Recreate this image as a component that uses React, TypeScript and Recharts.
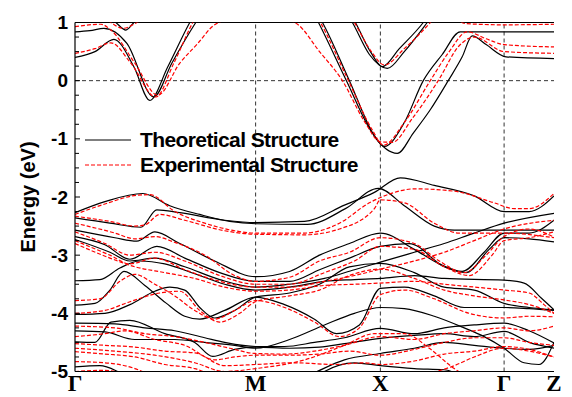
import React from "react";
import { LineChart, Line, XAxis, YAxis, ReferenceLine, Legend } from "recharts";

// k-path positions of the high-symmetry points and their labels
const kTicks = [0, 181, 306, 430, 480];
const kLabels = ["Γ", "M", "X", "Γ", "Z"];
const eTicks = [-5, -4.75, -4.5, -4.25, -4, -3.75, -3.5, -3.25, -3, -2.75, -2.5, -2.25, -2, -1.75, -1.5, -1.25, -1, -0.75, -0.5, -0.25, 0, 0.25, 0.5, 0.75, 1];
const legendLabels = ["Theoretical Structure", "Experimental Structure"];

// Theoretical structure bands: [k, E(eV)]
const thC1 = [[0,0.40],[20,0.50],[39,0.71],[59,0.24],[75,-0.34],[93,0.24],[115,1.0],[150,1.9],[181,2.2],[215,1.9],[244,1.0],[272,0.0],[298,-0.9],[310,-1.13],[330,-0.72],[349,0],[368,0.45],[386,0.84],[430,0.84],[480,0.84]];
const thC2 = [[0,0.84],[15,0.86],[29,0.90],[52,0.64],[79,-0.28],[97,0.30],[121,1.0],[160,1.9],[181,2.1],[215,1.8],[248,1.0],[275,0.0],[300,-0.95],[323,-1.25],[339,-0.9],[356,-0.5],[374,0],[388,0.41],[398,0.77],[412,0.62],[432,0.41],[480,0.38]];
const thC3 = [[20,1.3],[41,1.0],[51,0.87],[59,1.0],[80,1.4]];
const thC4 = [[255,1.6],[278,1.0],[295,0.45],[313,0.21],[330,0.5],[353,1.0],[370,1.4]];
const thC5 = [[258,1.6],[281,1.0],[296,0.5],[308,0.24],[325,0.55],[349,1.0],[365,1.4]];
const thV1 = [[0,-2.27],[30,-2.08],[68,-1.94],[95,-2.15],[125,-2.3],[155,-2.42],[181,-2.46],[233,-2.47],[271,-2.2],[304,-1.85],[330,-2.15],[360,-2.5],[380,-2.57],[430,-2.57],[480,-2.57]];
const thV2 = [[0,-2.36],[35,-2.45],[66,-2.52],[82,-2.22],[105,-2.27],[150,-2.4],[181,-2.44],[230,-2.42],[270,-2.14],[300,-1.92],[326,-1.67],[360,-1.8],[400,-1.98],[430,-2.25],[455,-2.25],[480,-1.98]];
const thV3 = [[0,-2.57],[40,-2.7],[62,-2.76],[80,-2.6],[105,-2.8],[140,-3.1],[181,-3.37],[215,-3.28],[245,-3.0],[275,-2.8],[306,-2.62],[340,-2.9],[365,-3.15],[388,-3.28],[410,-2.95],[430,-2.62],[455,-2.62],[480,-2.4]];
const thV4 = [[0,-2.68],[30,-2.82],[55,-3.07],[82,-2.85],[110,-3.05],[145,-3.3],[181,-3.45],[215,-3.45],[245,-3.25],[275,-3.05],[306,-2.85],[335,-2.8],[370,-3.2],[392,-3.3],[415,-2.9],[430,-2.7],[455,-2.72],[480,-2.77]];
const thV5 = [[0,-2.73],[35,-2.95],[55,-3.1],[80,-3.05],[110,-3.2],[145,-3.42],[181,-3.55],[215,-3.5],[250,-3.4],[280,-3.25],[306,-3.12],[340,-2.95],[370,-2.8],[400,-2.62],[430,-2.45],[480,-2.28]];
const thV6 = [[0,-3.44],[25,-3.42],[45,-3.22],[65,-3.1],[90,-3.15],[120,-3.32],[150,-3.5],[181,-3.6],[215,-3.55],[250,-3.45],[280,-3.42],[306,-3.4],[340,-3.35],[370,-3.4],[430,-3.43],[450,-3.48],[468,-3.75],[480,-3.94]];
const thV7 = [[0,-3.86],[20,-3.83],[35,-3.6],[49,-3.28],[70,-3.52],[91,-3.82],[110,-4.05],[125,-4.1],[150,-3.95],[181,-3.72],[210,-3.85],[240,-4.1],[262,-4.35],[285,-4.2],[306,-3.57],[330,-3.55],[360,-3.7],[390,-3.9],[430,-3.9],[455,-3.92],[480,-3.95]];
const thV8 = [[0,-4.02],[30,-4.0],[55,-3.85],[80,-3.62],[95,-3.55],[110,-3.6],[125,-3.9],[140,-4.08],[160,-3.95],[181,-3.72],[215,-3.65],[245,-3.5],[275,-3.2],[306,-3.14],[340,-3.3],[370,-3.55],[400,-3.6],[430,-3.83],[455,-3.9],[480,-3.94]];
const thV9 = [[0,-4.17],[40,-4.18],[70,-4.25],[100,-4.3],[130,-4.42],[150,-4.5],[181,-4.57],[210,-4.57],[240,-4.5],[270,-4.42],[306,-4.26],[340,-4.35],[370,-4.25],[400,-4.2],[430,-4.17],[455,-4.3],[480,-4.51]];
const thV10 = [[0,-4.49],[20,-4.5],[36,-4.15],[55,-4.12],[90,-4.35],[120,-4.5],[138,-4.74],[160,-4.62],[181,-4.58],[215,-4.6],[245,-4.58],[270,-4.52],[306,-4.43],[340,-4.38],[370,-4.35],[400,-4.4],[430,-4.31],[455,-4.5],[480,-4.6]];
const thV11 = [[0,-4.92],[25,-4.9],[50,-5.05],[80,-5.2],[200,-5.3],[236,-5.05],[270,-4.8],[306,-4.69],[340,-4.6],[370,-4.5],[400,-4.55],[430,-4.6],[455,-4.62],[480,-4.55]];
const thV12 = [[230,-5.3],[250,-5.0],[280,-4.85],[306,-4.9],[340,-4.95],[370,-4.97],[390,-5.1]];
const thV13 = [[0,-4.3],[30,-4.32],[60,-4.45],[100,-4.45],[130,-4.5],[160,-4.55],[181,-4.6],[215,-4.45],[250,-4.2],[280,-4.0],[306,-3.9],[330,-3.92],[360,-4.05],[390,-4.25],[410,-4.4],[430,-4.6],[450,-4.85],[465,-4.88],[480,-4.5]];

// Experimental structure bands: [k, E(eV)]
const exC1 = [[0,0.47],[20,0.55],[36,0.65],[56,0.30],[81,-0.28],[99,0.30],[118,1.0],[150,1.8],[181,2.0],[215,1.8],[246,1.0],[274,0.0],[298,-0.85],[309,-1.11],[330,-0.72],[356,0],[375,0.5],[393,0.84],[412,0.72],[430,0.62],[480,0.58]];
const exC2 = [[0,0.93],[26,0.97],[36,0.87],[60,0.30],[83,-0.25],[105,0.30],[123,0.64],[139,0.95],[160,1.08],[181,1.12],[205,1.08],[223,0.97],[245,0.5],[268,0.0],[290,-0.7],[306,-1.05],[318,-1.06],[338,-0.65],[364,0],[385,0.6],[400,0.75],[430,0.5],[480,0.47]];
const exC3 = [[15,1.3],[36,1.0],[48,0.9],[62,1.0],[85,1.3]];
const exC4 = [[257,1.6],[280,1.0],[297,0.5],[310,0.27],[330,0.55],[356,1.0],[375,1.4]];
const exC5 = [[370,1.3],[392,0.98],[430,0.96],[480,0.97]];
const exV1 = [[0,-2.3],[30,-2.12],[62,-1.97],[75,-1.96],[100,-2.25],[130,-2.45],[160,-2.58],[181,-2.62],[230,-2.62],[265,-2.45],[295,-2.1],[315,-1.95],[340,-1.86],[380,-1.9],[420,-2.1],[440,-2.2],[455,-2.2],[480,-1.94]];
const exV2 = [[0,-2.33],[35,-2.42],[60,-2.5],[70,-2.48],[85,-2.3],[110,-2.4],[150,-2.58],[181,-2.64],[230,-2.65],[265,-2.55],[300,-2.2],[306,-2.05],[330,-2.1],[360,-2.45],[385,-2.62],[430,-2.62],[480,-2.7]];
const exV3 = [[0,-2.45],[40,-2.62],[60,-2.72],[80,-2.68],[100,-2.78],[130,-3.0],[160,-3.35],[181,-3.45],[215,-3.38],[245,-3.1],[275,-2.95],[306,-2.7],[340,-2.8],[365,-3.1],[390,-3.3],[412,-3.0],[430,-2.68],[455,-2.55],[480,-2.69]];
const exV4 = [[0,-2.6],[30,-2.8],[55,-3.0],[80,-2.95],[110,-3.1],[145,-3.35],[181,-3.5],[215,-3.5],[250,-3.3],[280,-3.1],[306,-2.85],[340,-2.9],[370,-3.2],[395,-3.35],[418,-3.0],[430,-2.75],[455,-2.7],[480,-2.6]];
const exV5 = [[0,-2.75],[35,-3.0],[55,-3.15],[80,-3.05],[110,-3.25],[145,-3.45],[181,-3.55],[215,-3.55],[250,-3.45],[280,-3.35],[306,-3.24],[340,-3.1],[370,-2.95],[400,-2.75],[430,-2.55],[480,-2.4]];
const exV6 = [[0,-3.78],[25,-3.75],[45,-3.45],[60,-3.33],[80,-3.5],[100,-3.7],[120,-3.95],[140,-4.1],[160,-3.95],[181,-3.78],[210,-3.9],[240,-4.15],[265,-4.4],[285,-4.25],[306,-3.68],[330,-3.6],[360,-3.75],[395,-4.0],[430,-4.08],[455,-4.05],[480,-4.06]];
const exV7 = [[0,-4.0],[30,-3.95],[55,-3.8],[85,-3.65],[105,-3.62],[125,-3.95],[145,-4.15],[165,-4.0],[181,-3.8],[215,-3.7],[245,-3.6],[275,-3.35],[306,-3.24],[340,-3.4],[370,-3.6],[400,-3.7],[430,-3.77],[455,-3.85],[480,-4.0]];
const exV8 = [[0,-2.8],[35,-3.05],[60,-3.2],[90,-3.3],[120,-3.4],[150,-3.55],[181,-3.62],[215,-3.6],[250,-3.52],[280,-3.5],[306,-3.48],[340,-3.45],[370,-3.5],[430,-3.6],[455,-3.65],[470,-3.85],[480,-4.0]];
const exV9 = [[0,-4.22],[40,-4.25],[70,-4.35],[100,-4.4],[130,-4.5],[155,-4.6],[181,-4.69],[210,-4.7],[240,-4.65],[270,-4.55],[306,-4.4],[340,-4.45],[370,-4.35],[400,-4.3],[430,-4.25],[455,-4.3],[480,-4.22]];
const exV10 = [[0,-4.4],[30,-4.35],[50,-4.3],[80,-4.45],[110,-4.55],[140,-4.8],[160,-4.75],[181,-4.72],[215,-4.72],[245,-4.7],[275,-4.65],[306,-4.72],[340,-4.62],[370,-4.5],[400,-4.42],[430,-4.42],[455,-4.5],[480,-4.55]];
const exV11 = [[0,-4.52],[30,-4.55],[60,-4.58],[90,-4.65],[120,-4.68],[150,-4.9],[181,-4.88],[220,-4.85],[260,-4.88],[290,-4.85],[306,-4.88],[340,-4.82],[370,-4.7],[400,-4.65],[430,-4.57],[455,-4.62],[480,-4.75]];
const exV12 = [[0,-4.66],[30,-4.7],[60,-4.75],[90,-4.88],[120,-4.95],[140,-5.1]];
const exV13 = [[0,-4.83],[30,-4.85],[60,-4.95],[80,-5.1]];
const exV14 = [[0,-5.0],[30,-4.98],[60,-5.1]];
const exV15 = [[0,-4.6],[40,-4.65],[80,-4.72],[120,-4.85],[150,-5.0],[181,-4.95],[230,-4.8],[270,-4.55],[300,-4.35],[330,-4.35],[355,-4.6],[380,-4.95],[400,-5.15]];
const exV16 = [[300,-5.25],[340,-5.1],[380,-4.9],[400,-4.75],[430,-4.6],[455,-4.65],[480,-4.75]];

const theoryBands = [thC1, thC2, thC3, thC4, thC5, thV1, thV2, thV3, thV4, thV5, thV6, thV7, thV8, thV9, thV10, thV11, thV12, thV13];
const expBands = [exC1, exC2, exC3, exC4, exC5, exV1, exV2, exV3, exV4, exV5, exV6, exV7, exV8, exV9, exV10, exV11, exV12, exV13, exV14, exV15, exV16];

const toPts = (b: number[][]) => b.map(([k, e]) => ({ k, e }));

const SANS = "'Liberation Sans', Arial, Helvetica, sans-serif";
const SERIF = "'Liberation Serif', 'Times New Roman', serif";
const RED = "#ff0000";

const LeftTick = (props: any) => {
  const { x, y, payload } = props;
  const major = Number.isInteger(payload.value);
  return (
    <g>
      <line x1={x} x2={x + (major ? 5 : 4)} y1={y} y2={y} stroke="#000" strokeWidth={1} />
      {major && (
        <text x={x - 7} y={y + 6.5} textAnchor="end" fontFamily={SANS} fontWeight="bold" fontSize={19} fill="#000">
          {payload.value}
        </text>
      )}
    </g>
  );
};

const RightTick = (props: any) => {
  const { x, y } = props;
  return <line x1={x - 3} x2={x} y1={y} y2={y} stroke="#000" strokeWidth={1} />;
};

const BottomTick = (props: any) => {
  const { x, y, index } = props;
  return (
    <text x={x} y={y + 19.5} textAnchor="middle" fontFamily={SERIF} fontWeight="bold" fontSize={23} fill="#000">
      {kLabels[index]}
    </text>
  );
};

const renderLegend = () => (
  <svg width={300} height={50} style={{ display: "block", overflow: "visible" }}>
    <line x1={0} x2={46} y1={10} y2={10} stroke="#000" strokeWidth={1.2} />
    <text x={55} y={16.5} fontFamily={SANS} fontWeight="bold" fontSize={21} letterSpacing={-0.6} fill="#000">
      {legendLabels[0]}
    </text>
    <line x1={0} x2={46} y1={35} y2={35} stroke={RED} strokeWidth={1.2} strokeDasharray="4 2" />
    <text x={55} y={41.5} fontFamily={SANS} fontWeight="bold" fontSize={21} letterSpacing={-0.6} fill="#000">
      {legendLabels[1]}
    </text>
  </svg>
);

export default function App() {
  return (
    <LineChart width={556} height={389} margin={{ top: 14.5, right: 10, bottom: 0, left: 0 }}>
      <XAxis
        dataKey="k"
        type="number"
        domain={[0, 480]}
        ticks={kTicks}
        interval={0}
        allowDataOverflow
        height={25.5}
        tickSize={0}
        tickMargin={0}
        tickLine={false}
        axisLine={{ stroke: "#000", strokeWidth: 1.2 }}
        tick={<BottomTick />}
      />
      <YAxis
        type="number"
        domain={[-5, 1]}
        ticks={eTicks}
        interval={0}
        allowDataOverflow
        width={67}
        tickSize={0}
        tickMargin={0}
        tickLine={false}
        axisLine={{ stroke: "#000", strokeWidth: 1.2 }}
        tick={<LeftTick />}
        label={{ value: "Energy (eV)", angle: -90, position: "center", dx: -14, style: { fontFamily: SANS, fontWeight: "bold", fontSize: 20, fill: "#000" } }}
      />
      <YAxis
        yAxisId="r"
        orientation="right"
        type="number"
        domain={[-5, 1]}
        ticks={eTicks}
        interval={0}
        allowDataOverflow
        width={0}
        tickSize={0}
        tickMargin={0}
        tickLine={false}
        axisLine={{ stroke: "#000", strokeWidth: 1.2 }}
        tick={<RightTick />}
      />
      <ReferenceLine y={1} stroke="#000" strokeWidth={1.2} />
      <ReferenceLine y={0} stroke="#333" strokeDasharray="4 3" />
      <ReferenceLine x={kTicks[1]} stroke="#333" strokeDasharray="4 3" />
      <ReferenceLine x={kTicks[2]} stroke="#333" strokeDasharray="4 3" />
      <ReferenceLine x={kTicks[3]} stroke="#333" strokeDasharray="4 3" />
      {theoryBands.map((b, i) => (
        <Line
          key={"t" + i}
          data={toPts(b)}
          dataKey="e"
          type="monotone"
          stroke="#000"
          strokeWidth={1.2}
          dot={false}
          activeDot={false}
          isAnimationActive={false}
          legendType="none"
        />
      ))}
      {expBands.map((b, i) => (
        <Line
          key={"e" + i}
          data={toPts(b)}
          dataKey="e"
          type="monotone"
          stroke={RED}
          strokeWidth={1.2}
          strokeDasharray="4 2"
          dot={false}
          activeDot={false}
          isAnimationActive={false}
          legendType="none"
        />
      ))}
      <Legend
        layout="horizontal"
        verticalAlign="middle"
        align="center"
        content={renderLegend}
        wrapperStyle={{ position: "absolute", left: 77, top: 122, width: 300, height: 50 }}
      />
    </LineChart>
  );
}
